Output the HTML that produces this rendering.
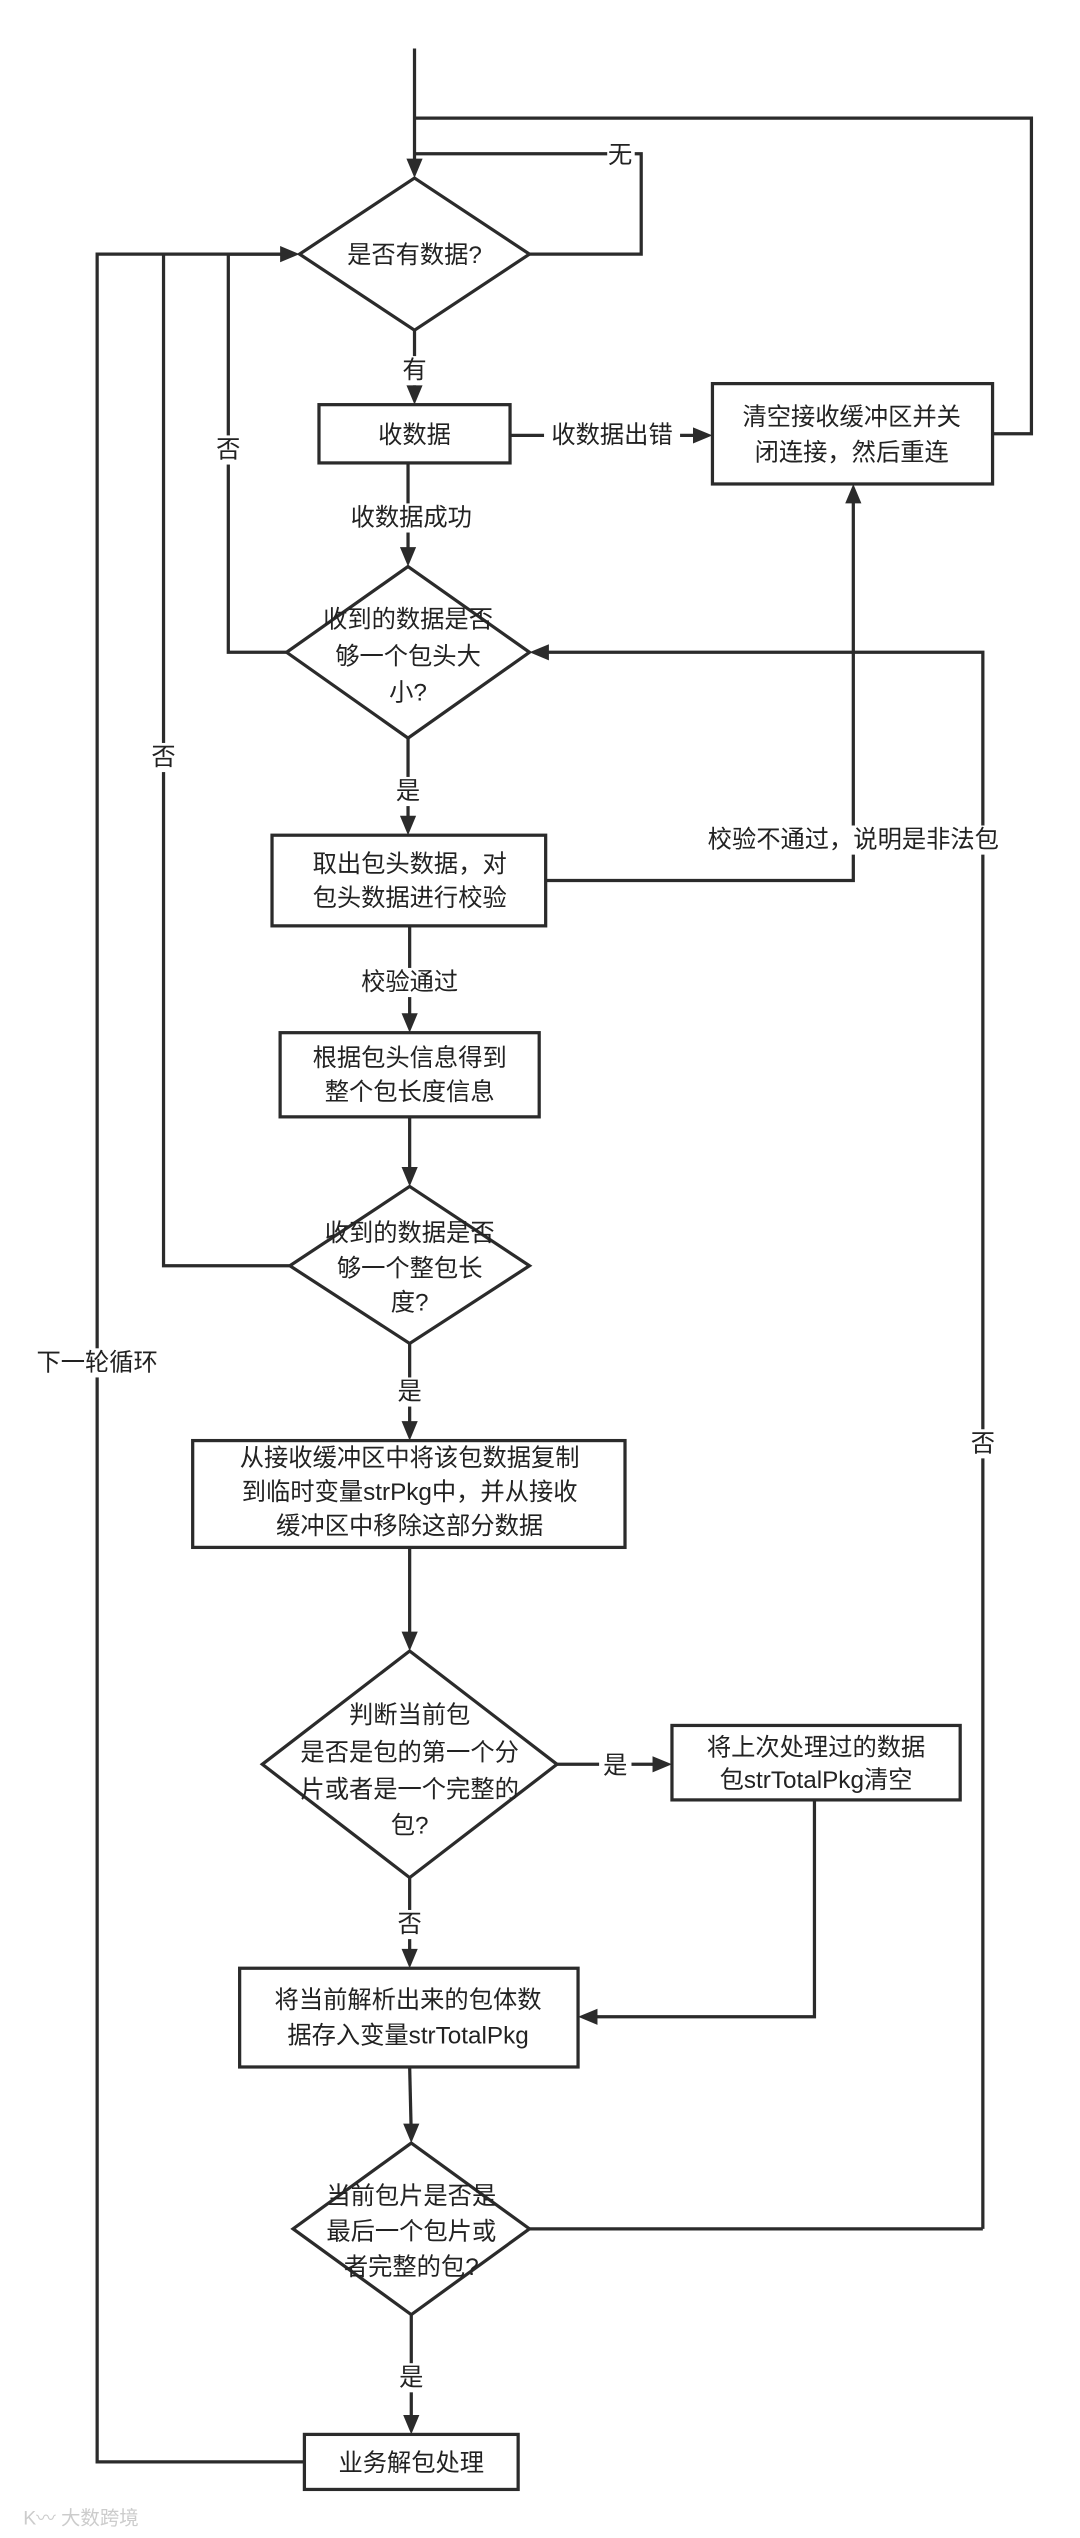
<!DOCTYPE html>
<html><head><meta charset="utf-8"><style>
html,body{margin:0;padding:0;background:#fff;}
svg{display:block;}
text{font-family:"Liberation Sans","Noto Sans CJK SC",sans-serif;font-size:15px;fill:#222;text-anchor:middle;dominant-baseline:central;}
</style></head><body>
<svg width="1080" height="2538" viewBox="0 0 667 1568" preserveAspectRatio="none" xmlns="http://www.w3.org/2000/svg">
<g fill="none" stroke="#2b2b2b" stroke-width="2">
<!-- lines -->
<polyline points="256,30 256,105"/>
<polyline points="256,73 637,73 637,268 613,268"/>
<polyline points="327,157 396,157 396,95 256,95"/>
<polyline points="256,204 256,245"/>
<polyline points="315,269 435,269"/>
<polyline points="256,286 252,286 252,345"/>
<polyline points="177,403 141,403 141,157 180,157"/>
<polyline points="607,1377 607,403 332,403"/>
<polyline points="252,456 252,511"/>
<polyline points="337,544 527,544 527,304"/>
<polyline points="253,572 253,633"/>
<polyline points="253,690 253,728"/>
<polyline points="179,782 101,782 101,157"/>
<polyline points="253,830 253,885"/>
<polyline points="253,956 253,1015"/>
<polyline points="344,1090 410,1090"/>
<polyline points="503,1112 503,1246 362,1246"/>
<polyline points="253,1160 253,1211"/>
<polyline points="253,1277 254,1319"/>
<polyline points="327,1377 607,1377"/>
<polyline points="254,1430 254,1499"/>
<polyline points="188,1521 60,1521 60,157 180,157"/>
<!-- shapes -->
<polygon fill="#fff" points="256,110 327,157 256,204 185,157"/>
<rect fill="#fff" x="197" y="250" width="118" height="36"/>
<rect fill="#fff" x="440" y="237" width="173" height="62"/>
<polygon fill="#fff" points="252,350 327,403 252,456 177,403"/>
<rect fill="#fff" x="168" y="516" width="169" height="56"/>
<rect fill="#fff" x="173" y="638" width="160" height="52"/>
<polygon fill="#fff" points="253,733 327,782 253,830 179,782"/>
<rect fill="#fff" x="119" y="890" width="267" height="66"/>
<polygon fill="#fff" points="253,1020 344,1090 253,1160 162,1090"/>
<rect fill="#fff" x="415" y="1066" width="178" height="46"/>
<rect fill="#fff" x="148" y="1216" width="209" height="61"/>
<polygon fill="#fff" points="254,1324 327,1377 254,1430 181,1377"/>
<rect fill="#fff" x="188" y="1504" width="132" height="34"/>
</g>
<g fill="#2b2b2b">
<polygon points="251,98 261,98 256,110"/>
<polygon points="173,152 173,162 185,157"/>
<polygon points="251,238 261,238 256,250"/>
<polygon points="428,264 428,274 440,269"/>
<polygon points="247,338 257,338 252,350"/>
<polygon points="339,398 339,408 327,403"/>
<polygon points="247,504 257,504 252,516"/>
<polygon points="522,311 532,311 527,299"/>
<polygon points="248,626 258,626 253,638"/>
<polygon points="248,721 258,721 253,733"/>
<polygon points="248,878 258,878 253,890"/>
<polygon points="248,1008 258,1008 253,1020"/>
<polygon points="403,1085 403,1095 415,1090"/>
<polygon points="369,1241 369,1251 357,1246"/>
<polygon points="248,1204 258,1204 253,1216"/>
<polygon points="249,1312 259,1312 254,1324"/>
<polygon points="249,1492 259,1492 254,1504"/>
</g>
<!-- label backgrounds -->
<g fill="#fff">
<rect x="375" y="87" width="17" height="18"/>
<rect x="247" y="220" width="18" height="18"/>
<rect x="336" y="260" width="84" height="18"/>
<rect x="210" y="311" width="88" height="18"/>
<rect x="132" y="269" width="18" height="18"/>
<rect x="243" y="480" width="18" height="18"/>
<rect x="92" y="459" width="18" height="18"/>
<rect x="428" y="510" width="198" height="18"/>
<rect x="219" y="598" width="68" height="18"/>
<rect x="244" y="851" width="18" height="18"/>
<rect x="17" y="833" width="86" height="18"/>
<rect x="370" y="1082" width="20" height="18"/>
<rect x="244" y="1180" width="18" height="18"/>
<rect x="598" y="883" width="18" height="18"/>
<rect x="245" y="1460" width="18" height="18"/>
</g>
<text x="383" y="96">无</text>
<text x="256" y="229">有</text>
<text x="378" y="269">收数据出错</text>
<text x="254" y="320">收数据成功</text>
<text x="141" y="278">否</text>
<text x="252" y="489">是</text>
<text x="101" y="468">否</text>
<text x="527" y="519">校验不通过，说明是非法包</text>
<text x="253" y="607">校验通过</text>
<text x="253" y="860">是</text>
<text x="60" y="842">下一轮循环</text>
<text x="380" y="1091">是</text>
<text x="253" y="1189">否</text>
<text x="607" y="892">否</text>
<text x="254" y="1469">是</text>

<text x="256" y="158">是否有数据?</text>
<text x="256" y="269">收数据</text>
<text x="526" y="258">清空接收缓冲区并关</text>
<text x="526" y="280">闭连接，然后重连</text>
<text x="252" y="383">收到的数据是否</text>
<text x="252" y="406">够一个包头大</text>
<text x="252" y="428">小?</text>
<text x="253" y="534">取出包头数据，对</text>
<text x="253" y="555">包头数据进行校验</text>
<text x="253" y="654">根据包头信息得到</text>
<text x="253" y="675">整个包长度信息</text>
<text x="253" y="762">收到的数据是否</text>
<text x="253" y="784">够一个整包长</text>
<text x="253" y="805">度?</text>
<text x="253" y="901">从接收缓冲区中将该包数据复制</text>
<text x="253" y="922">到临时变量strPkg中，并从接收</text>
<text x="253" y="943">缓冲区中移除这部分数据</text>
<text x="253" y="1060">判断当前包</text>
<text x="253" y="1083">是否是包的第一个分</text>
<text x="253" y="1106">片或者是一个完整的</text>
<text x="253" y="1128">包?</text>
<text x="504" y="1080">将上次处理过的数据</text>
<text x="504" y="1100">包strTotalPkg清空</text>
<text x="252" y="1236">将当前解析出来的包体数</text>
<text x="252" y="1258">据存入变量strTotalPkg</text>
<text x="254" y="1357">当前包片是否是</text>
<text x="254" y="1379">最后一个包片或</text>
<text x="254" y="1401">者完整的包?</text>
<text x="254" y="1522">业务解包处理</text>
<text x="50" y="1556" style="font-size:12px;fill:#ccc">K〰 大数跨境</text>
</svg>
</body></html>
